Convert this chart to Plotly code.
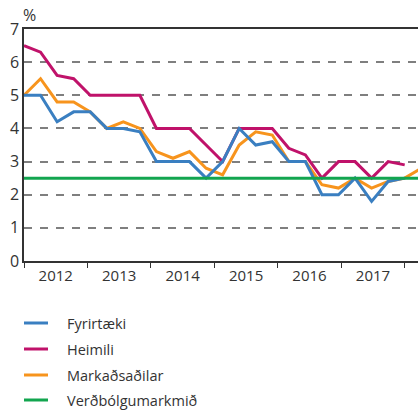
import plotly.graph_objects as go

# ---- data ----
quarters = ["2012Q1", "2012Q2", "2012Q3", "2012Q4",
            "2013Q1", "2013Q2", "2013Q3", "2013Q4",
            "2014Q1", "2014Q2", "2014Q3", "2014Q4",
            "2015Q1", "2015Q2", "2015Q3", "2015Q4",
            "2016Q1", "2016Q2", "2016Q3", "2016Q4",
            "2017Q1", "2017Q2", "2017Q3", "2017Q4",
            "2018Q1"]
fyrirtaeki = [5.0, 5.0, 4.2, 4.5, 4.5, 4.0, 4.0, 3.9,
              3.0, 3.0, 3.0, 2.5, 3.0, 4.0, 3.5, 3.6,
              3.0, 3.0, 2.0, 2.0, 2.5, 1.8, 2.4, 2.5, None]
heimili = [6.5, 6.3, 5.6, 5.5, 5.0, 5.0, 5.0, 5.0,
           4.0, 4.0, 4.0, 3.5, 3.0, 4.0, 4.0, 4.0,
           3.4, 3.2, 2.5, 3.0, 3.0, 2.5, 3.0, 2.9, None]
markadsadilar = [5.0, 5.5, 4.8, 4.8, 4.5, 4.0, 4.2, 4.0,
                 3.3, 3.1, 3.3, 2.8, 2.6, 3.5, 3.9, 3.8,
                 3.0, 3.0, 2.3, 2.2, 2.5, 2.2, 2.4, 2.5, 2.8]
target = 2.5
years = [2012, 2013, 2014, 2015, 2016, 2017]
y_ticks = [0, 1, 2, 3, 4, 5, 6, 7]
names = ["Fyrirtæki", "Heimili", "Markaðsaðilar", "Verðbólgumarkmið"]
colors = ["#3a7fc1", "#c0126a", "#f7941d", "#12a54f"]

# observations are spread evenly so that 2012Q1..2017Q4 span 2012..2018
step = 6 / 23
xpos = [2012 + i * step for i in range(len(quarters))]

W, H = 418, 412
L, T, B = 24, 29, 261          # plot area in page px
PW, PH = W - L, B - T


def px(xw):
    return (xw - L) / PW


def py(yw):
    return (B - yw) / PH


fig = go.Figure()
order = [(1, heimili), (2, markadsadilar), (0, fyrirtaeki)]
for idx, vals in order:
    fig.add_trace(go.Scatter(x=xpos, y=vals, mode="lines", name=names[idx],
                             line=dict(color=colors[idx], width=3),
                             customdata=quarters, showlegend=False))
fig.add_trace(go.Scatter(x=[xpos[0], xpos[-1]], y=[target, target], mode="lines",
                         name=names[3], line=dict(color=colors[3], width=3),
                         showlegend=False))

axis_col = "#333333"
fig.update_layout(
    width=W, height=H,
    margin=dict(l=L, r=0, t=T, b=H - B, pad=0),
    paper_bgcolor="white", plot_bgcolor="white",
    font=dict(family="Open Sans, Noto Sans, sans-serif", color="#333333"),
    showlegend=False,
    xaxis=dict(range=[2012, 2012 + PW / 63.45], automargin=False,
               tickmode="array", tickvals=[y + 0.5 for y in years],
               ticktext=[str(y) for y in years], ticks="",
               tickfont=dict(size=15, color="#333333"),
               showline=True, linecolor=axis_col, linewidth=1.5, mirror=True,
               showgrid=False, zeroline=False,
               minor=dict(tickmode="array", tickvals=years + [2018],
                          ticks="outside", ticklen=5, tickwidth=1.3,
                          tickcolor=axis_col, showgrid=False)),
    yaxis=dict(range=[0, 7], tickmode="array", tickvals=y_ticks, automargin=False,
               tickfont=dict(size=16, color="#333333"),
               showline=True, linecolor=axis_col, linewidth=1.5,
               showgrid=True, gridcolor="#7f7f7f", gridwidth=1.5,
               griddash="8px,8px", zeroline=False, ticks=""),
)

# "%" unit label
fig.add_annotation(x=px(29), y=py(15), xref="paper", yref="paper",
                   text="%", showarrow=False, font=dict(size=16, color="#333333"),
                   xanchor="center", yanchor="middle")

# manual legend
rows = [323, 349, 375, 400]
for i, ry in enumerate(rows):
    fig.add_shape(type="line", xref="paper", yref="paper",
                  x0=px(24), x1=px(48), y0=py(ry), y1=py(ry),
                  line=dict(color=colors[i], width=3))
    fig.add_annotation(x=px(65), y=py(ry), xref="paper", yref="paper",
                       text=names[i], showarrow=False, xanchor="left", yanchor="middle",
                       font=dict(size=14.5, color="#333333"))

fig.write_html("out.html", config={"displayModeBar": False},
               post_script="document.body.style.margin='0';document.body.style.overflow='hidden';")
